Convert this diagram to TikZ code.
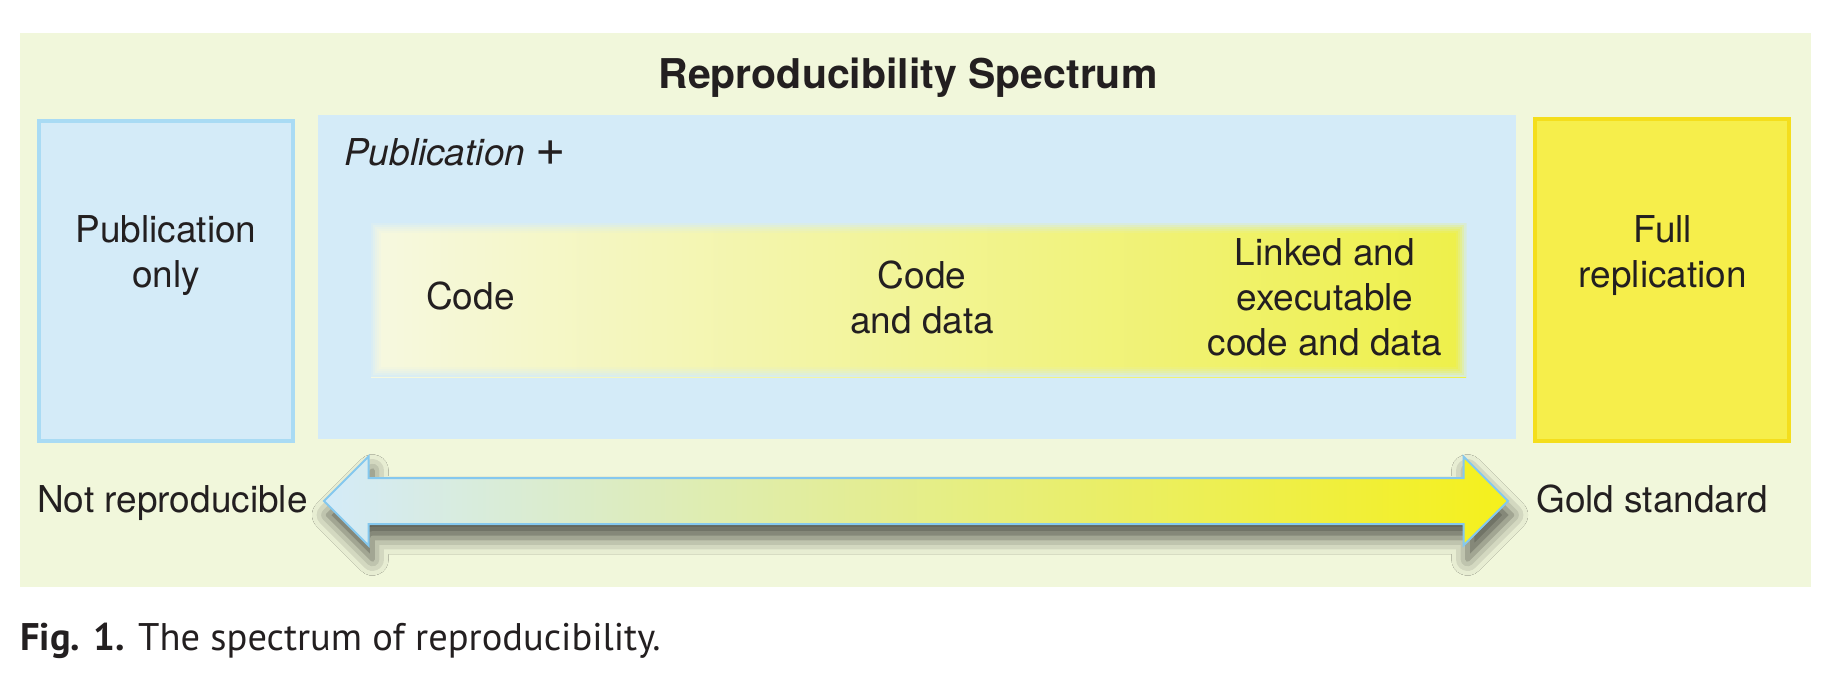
\documentclass[tikz,border=0pt]{standalone}
\usepackage{fontspec}
\setmainfont{TeX Gyre Heros}
\newfontfamily\capfont{PT Sans}
\usetikzlibrary{shapes.arrows,shadows.blur}
\definecolor{panelbg}{HTML}{F1F7DB}
\definecolor{pubblue}{HTML}{D4EBF8}
\definecolor{pubedge}{HTML}{A9DBF4}
\definecolor{goldfill}{HTML}{F6EE4B}
\definecolor{goldedge}{HTML}{F4DE1C}
\definecolor{bandlight}{HTML}{F6F8E0}
\definecolor{bandmid}{HTML}{F1F3A4}
\definecolor{bandyellow}{HTML}{EEF04A}
\definecolor{arrowedge}{HTML}{85C8EE}
\definecolor{arrowmid}{HTML}{DEEDC6}
\definecolor{arrowyellow}{HTML}{F5F01C}
\definecolor{ink}{HTML}{231F20}
\begin{document}
\begin{tikzpicture}[x=1pt,y=-1pt,
    txt/.style={text=ink,font=\fontsize{37}{45}\selectfont,inner sep=0pt,align=center},
    box/.style={inner sep=0pt,line width=4pt}]
    \useasboundingbox (0,0) rectangle (1832,691);
    \fill[panelbg] (20,33) rectangle (1811,587);
    \node[txt,font=\fontsize{41}{48}\selectfont\bfseries,anchor=base] (title) at (908,88) {Reproducibility Spectrum};
    % the three boxes
    \node[box,draw=pubedge,fill=pubblue,minimum width=254pt,minimum height=320pt] (pubonly) at (166,281) {};
    \node[box,fill=pubblue,minimum width=1198pt,minimum height=324pt] (pubplus) at (917,277) {};
    \node[box,draw=goldedge,fill=goldfill,minimum width=254pt,minimum height=322pt] (fullrep) at (1662,280) {};
    \node[txt,anchor=base] (pubonlytext) at (166,287) {Publication\\only};
    \node[txt,anchor=base] (fullreptext) at (1663,287) {Full\\replication};
    \node[txt,font=\fontsize{37}{45}\selectfont\itshape,anchor=base west] (pubplustext) at (344,165)
        {Publication {\fontsize{52}{45}\selectfont+}};
    % band inside publication +
    \node[inner sep=0pt,minimum width=1095pt,minimum height=154pt,
          left color=bandlight,middle color=bandmid,right color=bandyellow] (band) at (918.5,300) {};
    \foreach \d/\o in {1/0.8,3/0.6,5/0.4,7/0.25,9/0.1} {
        \draw[pubblue,opacity=\o,line width=2pt]
            ([xshift=\d pt,yshift=-\d pt]band.north west) rectangle ([xshift=-\d pt,yshift=\d pt]band.south east);
    }
    \node[txt,anchor=base west] (code) at (426,309) {Code};
    \node[txt,anchor=base] (codedata) at (922,333) {Code\\and data};
    \node[txt,anchor=base] (linked) at (1325,355) {Linked and\\executable\\code and data};
    % spectrum arrow
    \node[double arrow,inner xsep=0pt,inner ysep=22pt,minimum height=1184pt,
          double arrow head extend=21.5pt,draw=arrowedge,line width=2pt,
          left color=pubblue,middle color=arrowmid,right color=arrowyellow,
          blur shadow={shadow xshift=4pt,shadow yshift=-14pt,shadow blur radius=16pt,shadow opacity=65}]
          (spectrum) at (916,501) {};
    \node[txt,anchor=base west] (notrep) at (37,512) {Not reproducible};
    \node[txt,anchor=base west] (gold) at (1536,512) {Gold standard};
    \node[anchor=base west,inner sep=0pt,text=ink,font=\capfont\fontsize{38.5}{44}\selectfont]
          (caption) at (20,650) {\textbf{Fig. 1.} The spectrum of reproducibility.};
\end{tikzpicture}
\end{document}
